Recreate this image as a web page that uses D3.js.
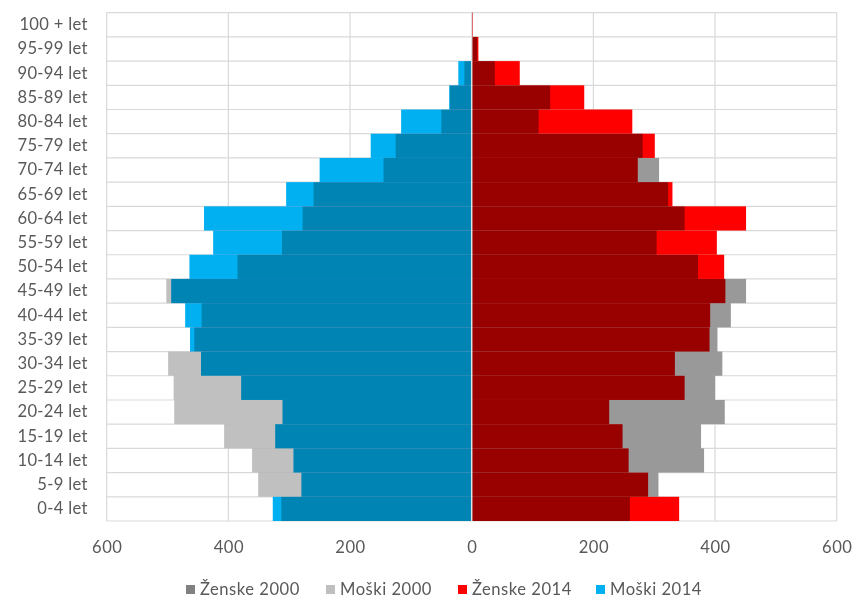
<!DOCTYPE html>
<html>
<head>
<meta charset="utf-8">
<script src="https://cdn.jsdelivr.net/npm/d3@7"></script>
<style>
  html, body { margin: 0; padding: 0; background: #fff; }
  svg { display: block; font-family: Lato, "Open Sans", sans-serif; }
</style>
</head>
<body>
<svg id="chart" width="855" height="598"></svg>
<script>
const categories = ["100 + let","95-99 let","90-94 let","85-89 let","80-84 let","75-79 let","70-74 let","65-69 let","60-64 let","55-59 let","50-54 let","45-49 let","40-44 let","35-39 let","30-34 let","25-29 let","20-24 let","15-19 let","10-14 let","5-9 let","0-4 let"];
const zenske2000 = [1,9,38,129,110,281,308,323,350,304,372,451,426,404,412,400,416,377,382,307,260];
const moski2000  = [0,1,12,36,50,125,145,260,278,312,385,502,444,456,499,490,489,407,361,351,313];
const zenske2014 = [2,11,79,185,264,301,273,330,451,403,415,417,392,391,334,350,226,248,258,290,341];
const moski2014  = [0,1,22,37,116,166,250,305,440,425,464,494,471,463,445,379,311,323,293,280,327];
const xTicks = [-600,-400,-200,0,200,400,600];

const series = [
  {name: "Ženske 2000", values: zenske2000, sign: 1,  color: "#999999", legend: "#808080"},
  {name: "Moški 2000",  values: moski2000,  sign: -1, color: "#c0c0c0", legend: "#bfbfbf"},
  {name: "Ženske 2014", values: zenske2014, sign: 1,  color: "#ff0000", legend: "#ff0000"},
  {name: "Moški 2014",  values: moski2014,  sign: -1, color: "#00b0f0", legend: "#00b0f0"}
];

const svg = d3.select("#chart");
const pLeft = 106.7, pRight = 836.7, pTop = 12.7, pBottom = 521;
const x = d3.scaleLinear().domain([-600, 600]).range([pLeft, pRight]);
const y = d3.scaleBand().domain(categories).range([pTop, pBottom]).padding(0);
const textColor = "#595959";
const gridColor = "#d9d9d9";
const fontSize = "16.6px";

// gridlines
const grid = svg.append("g");
grid.selectAll("line.v").data(xTicks).join("line")
  .attr("x1", d => x(d)).attr("x2", d => x(d))
  .attr("y1", pTop).attr("y2", pBottom)
  .attr("stroke", gridColor).attr("stroke-width", 1.2);
const bounds = categories.map(c => y(c)).concat([pBottom]);
grid.selectAll("line.h").data(bounds).join("line")
  .attr("x1", pLeft).attr("x2", pRight)
  .attr("y1", d => d).attr("y2", d => d)
  .attr("stroke", gridColor).attr("stroke-width", 1.2);

// bars (multiply blending gives the overlap colours)
const barsG = svg.append("g").style("isolation", "isolate");
series.forEach(s => {
  barsG.append("g").selectAll("rect").data(s.values.map((v, i) => ({v, c: categories[i]})))
    .join("rect")
    .attr("x", d => s.sign > 0 ? x(0) : x(-d.v))
    .attr("width", d => Math.abs(x(d.v) - x(0)))
    .attr("y", d => y(d.c))
    .attr("height", y.bandwidth())
    .attr("fill", s.color)
    .style("mix-blend-mode", "multiply");
});

// zero line
svg.append("line")
  .attr("x1", x(0)).attr("x2", x(0)).attr("y1", pTop).attr("y2", pBottom)
  .attr("stroke", "#e0e0e0").attr("stroke-width", 1.5);

// y axis
const yAxis = svg.append("g").attr("transform", `translate(${pLeft},0)`)
  .call(d3.axisLeft(y).tickSize(0).tickPadding(19));
yAxis.select(".domain").remove();
yAxis.selectAll("text").attr("fill", textColor).style("font-size", fontSize)
  .style("font-family", "Lato, sans-serif").style("letter-spacing", "0.3px");

// x axis
const xAxis = svg.append("g").attr("transform", `translate(0,${pBottom})`)
  .call(d3.axisBottom(x).tickValues(xTicks).tickFormat(d => Math.abs(d)).tickSize(0).tickPadding(20));
xAxis.select(".domain").remove();
xAxis.selectAll("text").attr("fill", textColor).style("font-size", fontSize)
  .style("font-family", "Lato, sans-serif").style("letter-spacing", "0.5px");

// legend
const legendTextX = [200, 340, 472, 610];
const lg = svg.append("g");
series.forEach((s, i) => {
  const g = lg.append("g").attr("transform", `translate(${legendTextX[i]},589.5)`);
  g.append("rect").attr("x", -14).attr("y", -4.5).attr("width", 9).attr("height", 9).attr("fill", s.legend);
  g.append("text").attr("x", 0).attr("y", 0).attr("dy", "0.36em")
    .attr("fill", textColor).style("font-size", fontSize).style("letter-spacing", "0.5px").text(s.name);
});
</script>
</body>
</html>
